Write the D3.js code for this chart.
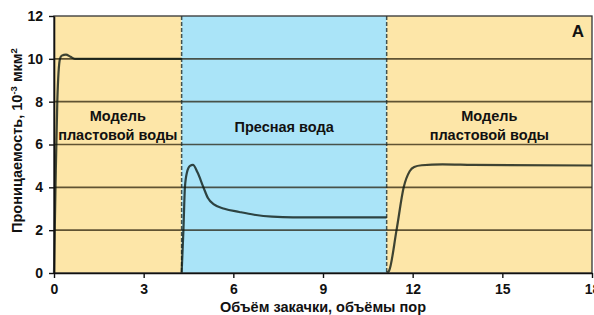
<!DOCTYPE html>
<html>
<head>
<meta charset="utf-8">
<script src="https://cdn.jsdelivr.net/npm/d3@7"></script>
<style>
  body { margin: 0; background: #fff; }
  svg { display: block; font-family: "Liberation Sans", Arial, sans-serif; }
  .tick text { font-size: 14px; font-weight: bold; fill: #111; }
  .lbl { font-size: 14.5px; font-weight: bold; fill: #111; }
</style>
</head>
<body>
<svg id="chart"></svg>
<script>
// zones: [start, end, fill]
const zoneBounds = [0, 4.27, 11.13, 18];
const zoneFills = ['#fde6a8', '#aae4f8', '#fde6a8'];
const zoneLabels = [['Модель', 'пластовой воды'], ['Пресная вода'], ['Модель', 'пластовой воды']];

// permeability curve, one segment per zone
const seg1X = [0, 0.05, 0.11, 0.2, 0.26, 0.4, 0.55, 0.7, 4.27];
const seg1Y = [0, 4, 8, 10, 10.15, 10.2, 10.1, 10.0, 10.0];
const seg2X = [4.27, 4.33, 4.38, 4.45, 4.55, 4.65, 4.8, 5.0, 5.15, 5.35, 5.7, 6.2, 6.7, 7.3, 8, 11.13];
const seg2Y = [0, 2, 4, 4.7, 5.0, 5.05, 4.7, 4.0, 3.5, 3.2, 3.0, 2.85, 2.72, 2.63, 2.6, 2.6];
const seg3X = [11.13, 11.21, 11.46, 11.7, 11.9, 12.05, 12.3, 13, 14, 18];
const seg3Y = [0, 0.1, 2, 4, 4.75, 4.95, 5.03, 5.07, 5.05, 5.02];

const xTicks = [0, 3, 6, 9, 12, 15, 18];
const yTicks = [0, 2, 4, 6, 8, 10, 12];

const config = {
  width: 594, height: 315,
  margin: { top: 16, right: 2, bottom: 42, left: 54 }
};
const w = config.width - config.margin.left - config.margin.right;
const h = config.height - config.margin.top - config.margin.bottom;

const svg = d3.select('#chart')
  .attr('width', config.width)
  .attr('height', config.height);

const g = svg.append('g')
  .attr('transform', `translate(${config.margin.left},${config.margin.top})`);

const x = d3.scaleLinear().domain([0, 18]).range([0, w]);
const y = d3.scaleLinear().domain([0, 12]).range([h, 0]);

// background zones
const zones = zoneFills.map((f, i) => ({ x0: zoneBounds[i], x1: zoneBounds[i + 1], fill: f, label: zoneLabels[i] }));
g.selectAll('rect.zone').data(zones).join('rect')
  .attr('class', 'zone')
  .attr('x', d => x(d.x0))
  .attr('y', 0)
  .attr('width', d => x(d.x1) - x(d.x0))
  .attr('height', h)
  .attr('fill', d => d.fill);

// gridlines (translucent so they tint with the zone colour)
g.selectAll('line.grid').data(yTicks.filter(t => t > 0 && t < 12)).join('line')
  .attr('class', 'grid')
  .attr('x1', 0).attr('x2', w)
  .attr('y1', d => y(d)).attr('y2', d => y(d))
  .attr('stroke', '#1c1400')
  .attr('stroke-opacity', 0.7)
  .attr('stroke-width', 1.6);

// zone dividers
g.selectAll('line.div').data(zoneBounds.slice(1, 3)).join('line')
  .attr('class', 'div')
  .attr('x1', d => x(d)).attr('x2', d => x(d))
  .attr('y1', 0).attr('y2', h)
  .attr('stroke', '#1c2a2a')
  .attr('stroke-opacity', 0.8)
  .attr('stroke-width', 1.5)
  .attr('stroke-dasharray', '4,2');

// curve
const line = d3.line()
  .x(d => x(d[0]))
  .y(d => y(d[1]))
  .curve(d3.curveMonotoneX);

[[seg1X, seg1Y], [seg2X, seg2Y], [seg3X, seg3Y]].forEach(([xs, ys]) => {
  g.append('path')
    .datum(xs.map((v, i) => [v, ys[i]]))
    .attr('d', line)
    .attr('fill', 'none')
    .attr('stroke', '#0e1a14')
    .attr('stroke-opacity', 0.8)
    .attr('stroke-width', 2.2);
});

// zone labels
zones.forEach(z => {
  const cx = (x(z.x0) + x(z.x1)) / 2;
  const y0 = z.label.length > 1 ? 105 : 116;
  z.label.forEach((t, i) => {
    g.append('text')
      .attr('class', 'lbl')
      .attr('x', cx)
      .attr('y', y0 + i * 19)
      .attr('text-anchor', 'middle')
      .text(t);
  });
});

g.append('text')
  .attr('x', w - 8)
  .attr('y', 21)
  .attr('text-anchor', 'end')
  .style('font-size', '17px')
  .style('font-weight', 'bold')
  .attr('fill', '#111')
  .text('А');

// frame
g.append('rect')
  .attr('width', w).attr('height', h)
  .attr('fill', 'none')
  .attr('stroke', '#333')
  .attr('stroke-width', 1.3);

// axes
const xAxis = d3.axisBottom(x).tickValues(xTicks).tickSize(5).tickSizeOuter(0).tickPadding(6);
const yAxis = d3.axisLeft(y).tickValues(yTicks).tickSize(5).tickSizeOuter(0).tickPadding(6);

const xAxisG = g.append('g').attr('transform', `translate(0,${h})`).call(xAxis);
const yAxisG = g.append('g').call(yAxis);
[xAxisG, yAxisG].forEach(a => {
  a.select('.domain').attr('stroke', '#111').attr('stroke-width', 1.6);
  a.selectAll('.tick line').attr('stroke', '#111').attr('stroke-width', 1.4);
});

// axis titles
svg.append('text')
  .attr('class', 'lbl')
  .attr('x', config.margin.left + w / 2)
  .attr('y', 312)
  .attr('text-anchor', 'middle')
  .text('Объём закачки, объёмы пор');

const yt = svg.append('text')
  .attr('class', 'lbl')
  .attr('transform', `translate(22,${config.margin.top + h / 2 - 4}) rotate(-90)`)
  .attr('text-anchor', 'middle');
yt.append('tspan').text('Проницаемость, 10');
yt.append('tspan').attr('dy', -5).style('font-size', '9.5px').text('-3');
yt.append('tspan').attr('dy', 5).text(' мкм');
yt.append('tspan').attr('dy', -5).style('font-size', '9.5px').text('2');
</script>
</body>
</html>
